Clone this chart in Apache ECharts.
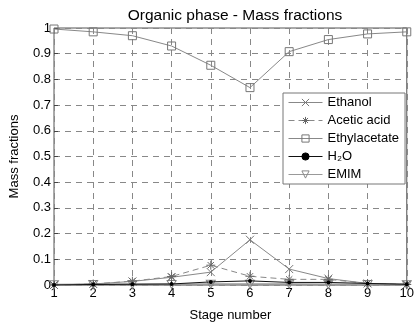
<!DOCTYPE html>
<html>
<head>
<meta charset="utf-8">
<script src="https://cdn.jsdelivr.net/npm/echarts@6/dist/echarts.min.js"></script>
<style>
  html, body { margin: 0; padding: 0; background: #fff; }
  #chart { width: 417px; height: 327px; }
</style>
</head>
<body>
<div id="chart"></div>
<script>
const stages = [1, 2, 3, 4, 5, 6, 7, 8, 9, 10]
const ethanol = [0.0, 0.004, 0.014, 0.03, 0.05, 0.176, 0.062, 0.025, 0.006, 0.002]
const aceticAcid = [0.0, 0.004, 0.015, 0.033, 0.077, 0.034, 0.022, 0.022, 0.006, 0.002]
const ethylacetate = [0.996, 0.985, 0.97, 0.93, 0.855, 0.768, 0.908, 0.955, 0.977, 0.985]
const water = [0.0, 0.002, 0.003, 0.004, 0.012, 0.016, 0.01, 0.01, 0.006, 0.003]
const emim = [0.001, 0.002, 0.002, 0.002, 0.003, 0.003, 0.003, 0.002, 0.002, 0.001]

const FONT = 'Liberation Sans, Arial, sans-serif'
const X_PATH = 'path://M0,0L10,10M10,0L0,10'
const STAR_PATH = 'path://M5,0L5,10M0,5L10,5M1.5,1.5L8.5,8.5M8.5,1.5L1.5,8.5'
const TRI_DOWN = 'path://M0,0L10,0L5,8.7Z'

function pairs(values) {
  return stages.map((s, i) => [s, values[i]])
}

const chart = echarts.init(document.getElementById('chart'), null, { renderer: 'canvas' })

chart.setOption({
  backgroundColor: '#fff',
  animation: false,
  textStyle: { fontFamily: FONT },
  title: {
    text: 'Organic phase - Mass fractions',
    left: 230,
    top: 3,
    textAlign: 'center',
    textStyle: { fontFamily: FONT, fontSize: 15.5, fontWeight: 'normal', color: '#000' },
  },
  legend: {
    orient: 'vertical',
    left: 283,
    top: 93,
    width: 119,
    padding: [3, 6, 3, 5],
    itemGap: 5,
    itemWidth: 34,
    itemHeight: 9,
    backgroundColor: '#fff',
    borderColor: '#777',
    borderWidth: 1,
    borderRadius: 0,
    itemStyle: { borderWidth: 1 },
    lineStyle: { width: 1 },
    textStyle: { fontFamily: FONT, fontSize: 13, color: '#000' },
    data: ['Ethanol', 'Acetic acid', 'Ethylacetate', 'H₂O', 'EMIM'],
  },
  grid: {
    left: 50, right: 6, top: 28, bottom: 36,
    show: true, borderColor: '#555', borderWidth: 1,
  },
  xAxis: {
    type: 'value',
    min: 1, max: 10, interval: 1,
    name: 'Stage number',
    nameLocation: 'middle',
    nameGap: 24,
    nameTextStyle: { fontFamily: FONT, fontSize: 13, color: '#000' },
    axisLine: { show: false },
    axisTick: { inside: true, length: 4, lineStyle: { color: '#444' } },
    axisLabel: { fontFamily: FONT, fontSize: 13, color: '#000', margin: 2 },
    splitLine: { lineStyle: { color: '#888', type: [6, 5] } },
  },
  yAxis: {
    type: 'value',
    min: 0, max: 1, interval: 0.1,
    name: 'Mass fractions',
    nameLocation: 'middle',
    nameGap: 33,
    nameTextStyle: { fontFamily: FONT, fontSize: 13, color: '#000' },
    axisLine: { show: false },
    axisTick: { inside: true, length: 4, lineStyle: { color: '#444' } },
    axisLabel: {
      fontFamily: FONT, fontSize: 13, color: '#000', margin: 3,
      formatter: v => String(Math.round(v * 10) / 10),
    },
    splitLine: { lineStyle: { color: '#888', type: [6, 5] } },
  },
  series: [
    {
      name: 'Ethanol', type: 'line', data: pairs(ethanol),
      symbol: X_PATH, symbolSize: 8, z: 4,
      lineStyle: { color: '#888', width: 1 },
      itemStyle: { color: 'transparent', borderColor: '#777', borderWidth: 1 },
    },
    {
      name: 'Acetic acid', type: 'line', data: pairs(aceticAcid),
      symbol: STAR_PATH, symbolSize: 9, z: 4,
      lineStyle: { color: '#888', width: 1, type: [6, 4] },
      itemStyle: { color: 'transparent', borderColor: '#666', borderWidth: 1 },
    },
    {
      name: 'Ethylacetate', type: 'line', data: pairs(ethylacetate),
      symbol: 'rect', symbolSize: 8, z: 4,
      lineStyle: { color: '#888', width: 1 },
      itemStyle: { color: 'transparent', borderColor: '#777', borderWidth: 1 },
    },
    {
      name: 'H₂O', type: 'line', data: pairs(water),
      symbol: 'circle', symbolSize: 4, z: 5,
      lineStyle: { color: '#111', width: 1 },
      itemStyle: { color: '#000', borderColor: '#000', borderWidth: 0 },
    },
    {
      name: 'EMIM', type: 'line', data: pairs(emim),
      symbol: TRI_DOWN, symbolSize: [9, 8], z: 3,
      lineStyle: { color: '#999', width: 2 },
      itemStyle: { color: 'transparent', borderColor: '#888', borderWidth: 1 },
    },
  ],
})
</script>
</body>
</html>
